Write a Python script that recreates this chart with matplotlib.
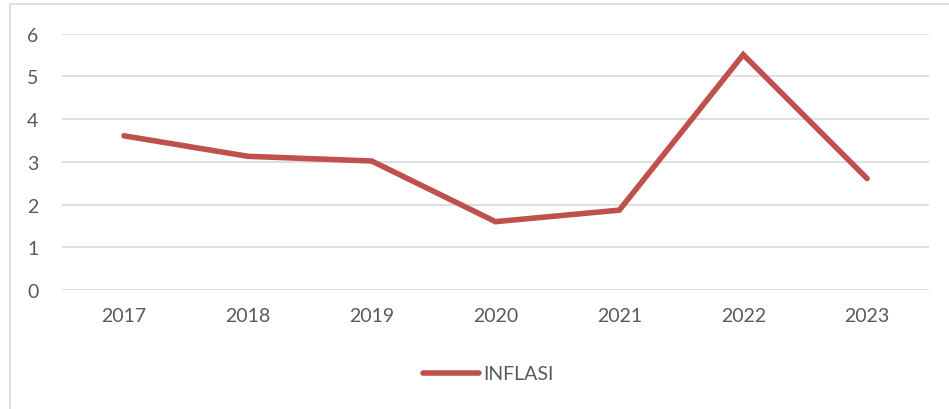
import matplotlib.pyplot as plt
from matplotlib.patches import Rectangle

plt.rcParams['font.family'] = ['Lato', 'DejaVu Sans']

years = ["2017", "2018", "2019", "2020", "2021", "2022", "2023"]
inflasi = [3.61, 3.13, 3.02, 1.60, 1.87, 5.51, 2.61]

fig = plt.figure(figsize=(9.49, 4.10), dpi=100)
ax = fig.add_axes([62/949, 119/410, 867/949, 256.3/410])

# outer chart frame (cut off at right and bottom)
fig.patches.append(Rectangle((10/949, -0.05), 1.0, 1 - 5/410 + 0.05,
                             transform=fig.transFigure, fill=False,
                             edgecolor="#d9d9d9", linewidth=1.2))

x = range(len(years))
ax.plot(x, inflasi, color="#c0504d", linewidth=4.0, solid_capstyle="round",
        solid_joinstyle="miter", label="INFLASI", zorder=3)

ax.set_xlim(-0.5, len(years) - 0.5)
ax.set_ylim(0, 6)
ax.set_yticks(range(7))
ax.set_xticks(list(x))
ax.set_xticklabels(years)
ax.grid(axis="y", color="#d9d9d9", linewidth=1.2)
ax.set_axisbelow(True)
for s in ax.spines.values():
    s.set_visible(False)
ax.tick_params(length=0, labelsize=14, colors="#595959")
ax.tick_params(axis="y", pad=17)
ax.tick_params(axis="x", pad=12)

ax.legend(loc="center", bbox_to_anchor=(488/949, 1 - 375/410),
          bbox_transform=fig.transFigure, frameon=False, fontsize=14,
          labelcolor="#595959", handlelength=2.9, handletextpad=0.2)

fig.savefig("out.png", dpi=100)
